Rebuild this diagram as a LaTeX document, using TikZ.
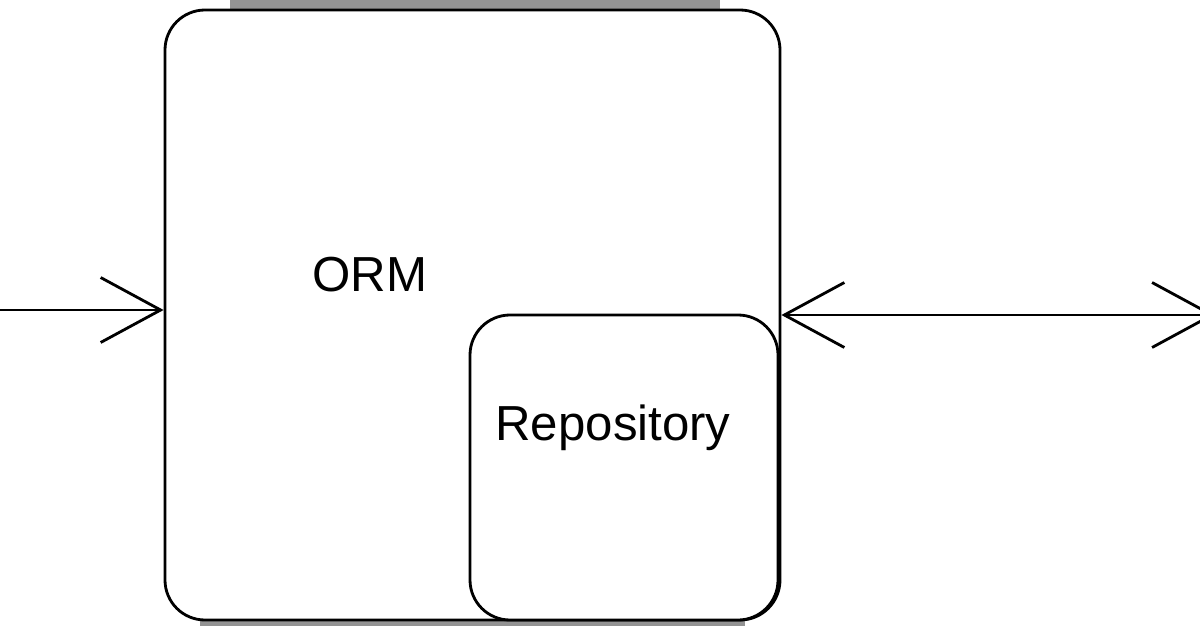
\documentclass[tikz,border=0pt]{standalone}
\usepackage{fontspec}
\setmainfont{Liberation Sans}
\usetikzlibrary{arrows.meta}
\begin{document}
\begin{tikzpicture}[
    block/.style ={draw, line width=1.6pt, rounded corners=0.8cm, fill=white, inner sep=0pt},
    link/.style ={line width=1.6pt, -{Straight Barb[length=1.2cm, width=1.3cm, line width=1.6pt]}},
    bar/.style ={fill=gray!85, draw=none}]
   \useasboundingbox (0,0) rectangle (24,12.52);
   \fill[bar] (4.6,12.30) rectangle (14.4,12.52);
   \fill[bar] (4.0,0) rectangle (14.9,0.16);

   \node[block, minimum width=12.3cm, minimum height=12.2cm] (ORM) at (9.45,6.22) {};
   \node[block, minimum width=6.16cm, minimum height=6.1cm] (Repo) at (12.48,3.17) {};
   \node[font=\fontsize{28}{32}\selectfont] (ORMlabel) at (7.4,7.02) {ORM};
   \node[font=\fontsize{28}{32}\selectfont] (Repolabel) at (12.26,3.96) {Repository};

   \coordinate (In) at (0,6.32);
   \coordinate (Out) at (24.3,6.22);
   \draw[link] (In) to (ORM.west |- In);
   \draw[link, {Straight Barb[length=1.2cm, width=1.3cm, line width=1.6pt]}-{Straight Barb[length=1.2cm, width=1.3cm, line width=1.6pt]}] (ORM.east) to (Out);
\end{tikzpicture}
\end{document}
